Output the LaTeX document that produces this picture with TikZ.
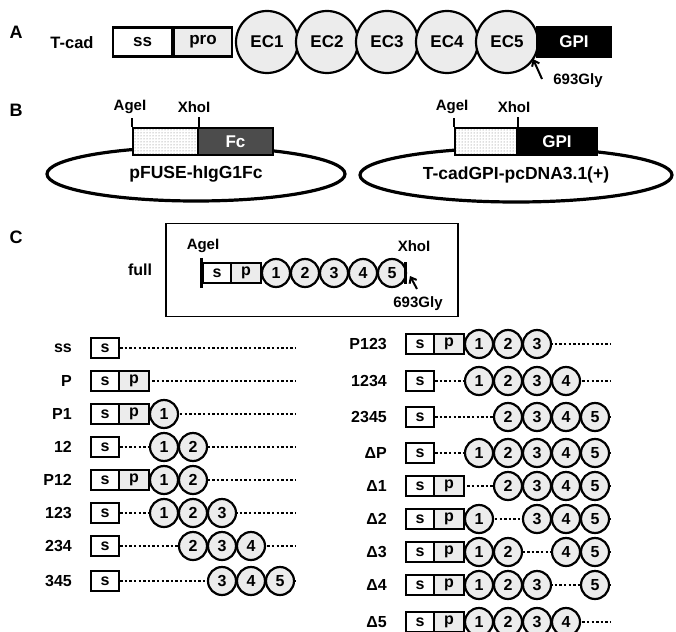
\documentclass[tikz,border=0pt]{standalone}
\usepackage{fontspec}
\setmainfont{Liberation Sans}
\usetikzlibrary{shapes.geometric,patterns,arrows.meta}
\newcommand{\fs}[1]{\fontsize{#1}{#1}\selectfont\bfseries}

\begin{document}
\begin{tikzpicture}[x=1pt,y=-1pt,
  every node/.style={inner sep=0pt},
  panel/.style={font=\fs{18}},
  molname/.style={font=\fs{16.5}},
  site/.style={font=\fs{15}},
  dombox/.style={draw, line width=2.2pt, minimum height=29, font=\fs{17}},
  ecad/.style={circle, draw, line width=2.2pt, fill=gray!15, minimum size=62, font=\fs{17}},
  insbox/.style={draw, line width=2pt, minimum height=27, preaction={fill=white}, pattern=dots, pattern color=black!55},
  plasmid/.style={ellipse, draw, line width=3.2pt, font=\fs{17.5}},
  cleavage/.style={-{Straight Barb[length=5pt,width=8pt]}, line width=2pt},
  sdom/.style={draw, line width=2.2pt, fill=white, minimum height=20, font=\fs{16}},
  pdom/.style={sdom, fill=gray!15},
  ecdom/.style={circle, draw, line width=2.2pt, fill=gray!15, minimum size=28, font=\fs{16}},
  deleted/.style={line width=2.5pt, dash pattern=on 2.4pt off 2.2pt},
  rowlabel/.style={font=\fs{16}, anchor=east}]
\useasboundingbox (0,0) rectangle (676,631);

% A: T-cadherin domains
\node[panel] (A) at (16,32) {A};
\node[molname] (tcad) at (72,43) {T-cad};
\node[dombox, fill=white, minimum width=59] (ss) at (142.5,42) {ss};
\node[dombox, fill=gray!15, minimum width=58] (pro) at (203,42) {pro};
\draw[line width=2pt] (ss) -- (pro);
\node[ecad] (ec1) at (267,42) {EC1};
\node[ecad] (ec2) at (327,42) {EC2};
\node[ecad] (ec3) at (387,42) {EC3};
\node[ecad] (ec4) at (447,42) {EC4};
\node[ecad] (ec5) at (507,42) {EC5};
\node[dombox, fill=black, text=white, minimum width=74] (gpi) at (574,42) {GPI};
\draw[line width=2pt] (ec5) -- (gpi);
\node[site] (gly) at (578,81) {693Gly};
\coordinate (gtail) at (542,79);
\coordinate (ghead) at (533,59);
\draw[cleavage] (gtail) -- (ghead);

% B: vectors
\node[panel] (B) at (16,110) {B};
\node[plasmid, minimum width=298, minimum height=54] (pfuse) at (196,174) {pFUSE-hIgG1Fc};
\node[insbox, minimum width=65] (ins1) at (165.5,141.5) {};
\node[dombox, minimum width=75, minimum height=27, fill=black!70, text=white] (fc) at (235.5,141.5) {Fc};
\node[site] (age1) at (130,107) {AgeI};
\node[site] (xho1) at (194,107) {XhoI};
\draw[line width=2pt, shorten >=4pt] (ins1.north west) -- (ins1.north west |- age1.south);
\draw[line width=2pt, shorten >=4pt] (ins1.north east) -- (ins1.north east |- xho1.south);

\node[plasmid, minimum width=312, minimum height=54] (pcdna) at (516,175) {T-cadGPI-pcDNA3.1(+)};
\node[insbox, minimum width=62] (ins2) at (486,141.5) {};
\node[dombox, minimum width=80, minimum height=27, fill=black, text=white] (gpi2) at (557,141.5) {GPI};
\node[site] (age2) at (452,107) {AgeI};
\node[site] (xho2) at (514,107) {XhoI};
\draw[line width=2pt, shorten >=4pt] (ins2.north west) -- (ins2.north west |- age2.south);
\draw[line width=2pt, shorten >=4pt] (ins2.north east) -- (ins2.north east |- xho2.south);

% C: deletion constructs
\node[panel] (C) at (16,237) {C};
\node[draw, line width=1.3pt, minimum width=292, minimum height=93] (fullbox) at (312,270) {};
\node[rowlabel, anchor=center] (full) at (140,270) {full};
\node[sdom, minimum width=28] (fs) at (217,273) {s};
\node[pdom, minimum width=30] (fp) at (246,273) {p};
\foreach \k in {1,...,5}
  \node[ecdom] (f\k) at (276+29*\k-29,273) {\k};
\node[site] (fage) at (203,246) {AgeI};
\node[site] (fxho) at (414,246) {XhoI};
\draw[line width=3pt] ([yshift=4pt]fs.north west) -- ([yshift=-4pt]fs.south west);
\draw[line width=2.4pt] ([xshift=3pt]f5.north east) -- ([xshift=3pt]f5.south east);
\node[site] (fgly) at (418,304) {693Gly};
\coordinate (ftail) at (417,289);
\coordinate (fhead) at (410,276);
\draw[cleavage] (ftail) -- (fhead);

\foreach \lab/\xo/\y/\pro/\doms [count=\r] in {
  ss/0/348/0/0, P/0/381/1/0, P1/0/414/1/1, 12/0/447/0/{1,2},
  P12/0/480/1/{1,2}, 123/0/513/0/{1,2,3}, 234/0/546/0/{2,3,4}, 345/0/581/0/{3,4,5},
  P123/315/344/1/{1,2,3}, 1234/315/381/0/{1,2,3,4}, 2345/315/417/0/{2,3,4,5},
  ΔP/315/453/0/{1,2,3,4,5}, Δ1/315/486/1/{2,3,4,5}, Δ2/315/519/1/{1,3,4,5},
  Δ3/315/552/1/{1,2,4,5}, Δ4/315/585/1/{1,2,3,5}, Δ5/315/622/1/{1,2,3,4}} {
  \node[rowlabel] (lab-\r) at (\xo+72,\y) {\lab};
  \coordinate (end-\r) at (\xo+296,\y);
  \node[sdom, minimum width=28] (s-\r) at (\xo+105,\y) {s};
  \draw[deleted] (s-\r.east) -- (end-\r);
  \ifnum\pro=1
    \node[pdom, minimum width=30] (p-\r) at (\xo+134,\y) {p};
  \fi
  \foreach \k in \doms {
    \ifnum\k>0
      \node[ecdom] (d\k-\r) at (\xo+164+29*\k-29,\y) {\k};
    \fi
  }
}
\end{tikzpicture}
\end{document}
